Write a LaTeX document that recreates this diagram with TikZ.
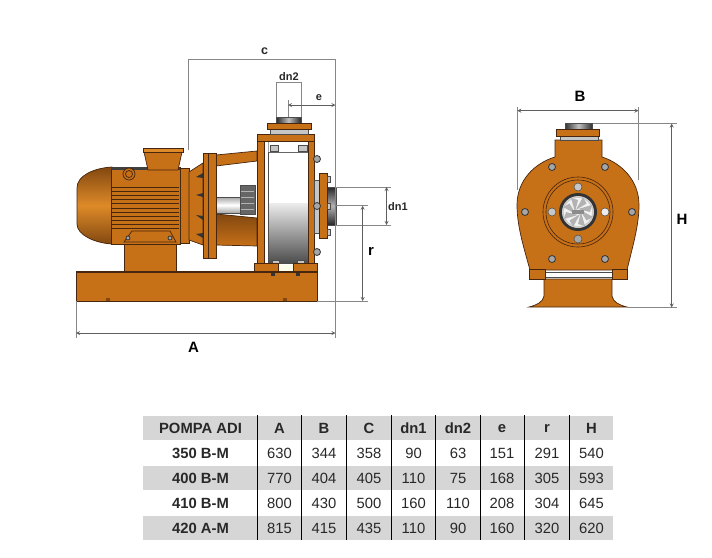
\documentclass[tikz,border=0pt]{standalone}
\usepackage{fontspec}
\setmainfont{Liberation Sans}
\usetikzlibrary{calc,positioning,arrows}
\definecolor{pumporange}{RGB}{198,112,24}
\definecolor{pumplight}{RGB}{222,138,40}
\definecolor{pumpdark}{RGB}{130,72,16}
\definecolor{pumpedge}{RGB}{70,38,14}
\definecolor{dimgray}{RGB}{135,135,135}
\definecolor{rowgray}{RGB}{214,214,214}
\definecolor{inktext}{RGB}{40,40,40}
\tikzset{
	>=stealth,
	metal/.style={fill=pumporange, draw=pumpedge, line width=0.7pt},
	steel/.style={fill=gray!45, draw=black!70, line width=0.5pt},
	bolt/.style={fill=gray!70, draw=black!80, line width=0.8pt},
	rib/.style={draw=pumpedge, line width=0.9pt},
	extline/.style={draw=dimgray, line width=0.8pt},
	dimline/.style={<->, draw=dimgray!70!black, line width=0.8pt},
	dimtext/.style={font=\fontsize{11}{12}\selectfont\bfseries, text=inktext, inner sep=0pt},
	biglabel/.style={font=\fontsize{15}{16}\selectfont\bfseries, text=black, inner sep=0pt},
	cell/.style={font=\fontsize{14.8}{16}\selectfont, text=inktext, inner sep=0pt},
	headcell/.style={cell, font=\fontsize{14.8}{16}\selectfont\bfseries},
	rowband/.style={fill=rowgray, draw=none},
	divider/.style={draw=black, line width=1pt},
}

\begin{document}
\begin{tikzpicture}[x=1pt, y=-1pt]
		\useasboundingbox (0,0) rectangle (712,557);

		% side view: base and motor
		\draw[metal] (76,271) rectangle (317,301);
		\draw[pumpedge, line width=1.4pt] (76,272) -- (317,272);
		\fill[pumpdark] (106,298) rectangle (110,301);
		\fill[pumpdark] (283,298) rectangle (287,301);
		\fill[black!80] (271,273) rectangle (275,276);
		\fill[black!80] (296,273) rectangle (300,276);
		\draw[metal] (124,243) rectangle (176,271);
		\draw[metal, top color=pumpdark, bottom color=pumpdark, middle color=pumplight] (112,167) .. controls (95,168) and (77,175) .. (77,188) -- (77,224) .. controls (77,235) and (95,243) .. (112,244) -- cycle;
		\draw[metal] (111,167) rectangle (180,244);
		\fill[black!75] (111,167) rectangle (180,170);
		\draw[rib] (112,187) -- (179,187);
		\draw[rib] (112,191) -- (179,191);
		\draw[rib] (112,195) -- (179,195);
		\draw[rib] (112,199) -- (179,199);
		\draw[rib] (112,203) -- (179,203);
		\draw[rib] (112,208) -- (179,208);
		\draw[rib] (112,212) -- (179,212);
		\draw[rib] (112,216) -- (179,216);
		\draw[rib] (112,220) -- (179,220);
		\draw[rib] (112,224) -- (179,224);
		\draw[rib] (112,228) -- (179,228);
		\draw[metal] (129,174) circle (6);
		\draw[metal] (129,174) circle (3.5);
		\draw[metal] (132,231) -- (170,231) -- (176,242) -- (124,242) -- cycle;
		\node[bolt, circle, minimum size=4pt, inner sep=0pt] (footl) at (128,238) {};
		\node[bolt, circle, minimum size=4pt, inner sep=0pt] (footr) at (170,238) {};
		\draw[metal] (144,152) -- (182,152) -- (178,170) -- (148,170) -- cycle;
		\draw[metal, fill=pumplight] (143,148) rectangle (183,152);

		% side view: lantern and bracket
		\draw[metal] (180,168) rectangle (189,243);
		\draw[metal] (189,172) -- (203,163) -- (203,245) -- (189,240) -- cycle;
		\fill[black!80] (196,177) -- (203,173) -- (203,178) -- cycle;
		\fill[black!80] (196,195) -- (203,193) -- (203,197) -- cycle;
		\fill[black!80] (196,215) -- (203,216) -- (203,220) -- cycle;
		\fill[black!80] (196,234) -- (203,233) -- (203,238) -- cycle;
		\draw[metal] (216,155) -- (257,151) -- (257,161) -- (216,166) -- cycle;
		\draw[metal, top color=pumpdark, bottom color=pumporange] (216,214) -- (257,218) -- (257,246) -- (216,245) -- cycle;
		\draw[steel, top color=gray!70, bottom color=gray!70, middle color=white] (216,197) rectangle (240,213);
		\draw[steel, fill=black!60] (240,185) rectangle (255,214);
		\draw[gray!60, line width=0.8pt] (241,191) -- (254,191);
		\draw[gray!60, line width=0.8pt] (241,197) -- (254,197);
		\draw[gray!60, line width=0.8pt] (241,203) -- (254,203);
		\draw[gray!60, line width=0.8pt] (241,209) -- (254,209);
		\draw[metal] (203,153) rectangle (216,258);
		\draw[pumpedge, line width=0.7pt] (208,153) -- (208,258);

		% side view: pump housing
		\fill[white] (264,141) rectangle (308,263);
		\draw[gray!70, line width=0.8pt] (268,141) -- (268,263);
		\draw[draw=black!60, fill=white] (268,152) rectangle (308,203);
		\shade[top color=gray!15, bottom color=black!70] (268,203) rectangle (308,263);
		\draw[black!70, line width=0.6pt] (268,152) -- (268,263);
		\draw[steel] (270,145) rectangle (278,151);
		\draw[steel] (298,145) rectangle (307,151);
		\draw[steel] (272,260) rectangle (279,263);
		\draw[steel] (297,260) rectangle (304,263);
		\draw[metal] (257,134) rectangle (264,263);
		\draw[metal] (308,134) rectangle (314,263);
		\draw[metal] (257,134) rectangle (314,141);
		\fill[yellow!8] (278,265) rectangle (293,271);
		\draw[metal] (254,263) rectangle (278,271);
		\draw[metal] (293,263) rectangle (317,271);
		\draw[steel] (270,129) rectangle (308,134);
		\draw[steel, left color=black!85, right color=black!85, middle color=gray!50] (276,117) rectangle (301,123);
		\draw[metal] (267,123) rectangle (311,129);
		\draw[steel] (314,180) rectangle (319,233);
		\draw[steel, top color=black!85, bottom color=black!85, middle color=gray!60] (327,187) rectangle (336,225);
		\draw[metal] (319,173) rectangle (327,238);
		\node[bolt, circle, minimum size=7pt, inner sep=0pt] (boltup) at (317,159) {};
		\node[bolt, circle, minimum size=7pt, inner sep=0pt] (boltmid) at (317,206) {};
		\node[bolt, circle, minimum size=7pt, inner sep=0pt] (boltlow) at (317,252) {};
		\draw[steel] (327,176) rectangle (330,182);
		\draw[steel] (327,203) rectangle (330,209);
		\draw[steel] (327,229) rectangle (330,235);

		% front view
		\draw[metal] (544,279) -- (544,296) .. controls (543,302) and (537,305) .. (529,307) -- (627,307) .. controls (619,305) and (613,302) .. (612,296) -- (612,279) -- cycle;
		\draw[metal] (555,157) .. controls (535,163) and (517,180) .. (517,205) .. controls (517,225) and (523,245) .. (530,270) -- (627,270) .. controls (633,245) and (639,225) .. (639,205) .. controls (639,180) and (621,163) .. (602,157) -- (602,140) -- (555,140) -- cycle;
		\draw[steel, fill=white] (545,272) rectangle (612,277);
		\draw[metal] (529,269) rectangle (545,279);
		\draw[metal] (612,269) rectangle (627,279);
		\draw[steel] (560,136) rectangle (598,140);
		\draw[steel, left color=black!80, right color=black!80, middle color=gray!50] (565,123) rectangle (592,129);
		\draw[metal] (556,129) rectangle (599,136);
		\draw[pumpedge, line width=0.6pt] (578,212) circle (35);
		\draw[pumpedge, line width=0.6pt] (578,212) circle (32);
		\node[bolt, circle, minimum size=7pt, inner sep=0pt] (holea) at (552,167) {};
		\node[bolt, circle, minimum size=7pt, inner sep=0pt] (holeb) at (605,167) {};
		\node[bolt, circle, minimum size=7pt, inner sep=0pt] (holec) at (525,212) {};
		\node[bolt, circle, minimum size=7pt, inner sep=0pt] (holed) at (632,212) {};
		\node[bolt, circle, minimum size=7pt, inner sep=0pt] (holee) at (552,259) {};
		\node[bolt, circle, minimum size=7pt, inner sep=0pt] (holef) at (605,259) {};
		\node[steel, circle, minimum size=8pt, inner sep=0pt] (studa) at (578,187) {};
		\node[steel, circle, minimum size=8pt, inner sep=0pt] (studb) at (552,212) {};
		\node[steel, circle, minimum size=8pt, inner sep=0pt, fill=gray!15] (studc) at (605,212) {};
		\node[steel, circle, minimum size=8pt, inner sep=0pt, fill=gray!70] (studd) at (578,239) {};
		\fill[black!80] (578,212) circle (19);
		\fill[gray!40] (578,212) circle (16);
		\fill[gray!10] (578,212) circle (14);
		\fill[gray!60, rotate around={0:(578,212)}] (578,209) -- (592,205) -- (590,212) -- cycle;
		\fill[gray!60, rotate around={45:(578,212)}] (578,209) -- (592,205) -- (590,212) -- cycle;
		\fill[gray!60, rotate around={90:(578,212)}] (578,209) -- (592,205) -- (590,212) -- cycle;
		\fill[gray!60, rotate around={135:(578,212)}] (578,209) -- (592,205) -- (590,212) -- cycle;
		\fill[gray!60, rotate around={180:(578,212)}] (578,209) -- (592,205) -- (590,212) -- cycle;
		\fill[gray!60, rotate around={225:(578,212)}] (578,209) -- (592,205) -- (590,212) -- cycle;
		\fill[gray!60, rotate around={270:(578,212)}] (578,209) -- (592,205) -- (590,212) -- cycle;
		\fill[gray!60, rotate around={315:(578,212)}] (578,209) -- (592,205) -- (590,212) -- cycle;
		\fill[gray!90] (572,210) rectangle (584,214);

		% dimension points
		\coordinate (cl) at (188,59);
		\coordinate (cr) at (335.5,59);
		\coordinate (cfoot) at (188,150);
		\coordinate (crfoot) at (335.5,338);
		\coordinate (al) at (76,333);
		\coordinate (ar) at (335.5,333);
		\coordinate (altop) at (76,301);
		\coordinate (albot) at (76,338);
		\coordinate (dnl) at (276.5,82);
		\coordinate (dnr) at (301,82);
		\coordinate (dnlf) at (276.5,117);
		\coordinate (dnrf) at (301,117);
		\coordinate (el) at (288,105);
		\coordinate (er) at (335.5,105);
		\coordinate (eltop) at (288,100);
		\coordinate (elbot) at (288,117);
		\coordinate (dtop) at (336,187);
		\coordinate (dbot) at (336,225);
		\coordinate (dtopr) at (391,187);
		\coordinate (dbotr) at (391,225);
		\coordinate (dmidt) at (386.5,187);
		\coordinate (dmidb) at (386.5,225);
		\coordinate (rt) at (362.7,205.7);
		\coordinate (rb) at (362.7,301);
		\coordinate (rtl) at (336,205.7);
		\coordinate (rtr) at (368,205.7);
		\coordinate (rbl) at (317,301);
		\coordinate (rbr) at (368,301);
		\coordinate (bl) at (517.3,110.7);
		\coordinate (br) at (638.5,110.7);
		\coordinate (bltop) at (517.3,107);
		\coordinate (blbot) at (517.3,190);
		\coordinate (brtop) at (638.5,107);
		\coordinate (brbot) at (638.5,180);
		\coordinate (ht) at (671.7,123.5);
		\coordinate (hb) at (671.7,307.5);
		\coordinate (htl) at (593,123.5);
		\coordinate (htr) at (677,123.5);
		\coordinate (hbl) at (627,307.5);
		\coordinate (hbr) at (677,307.5);

		% dimension lines
		\draw[extline] (cfoot) -- (cl) -- (cr) -- (crfoot);
		\draw[extline] (altop) -- (albot);
		\draw[dimline] (al) -- (ar);
		\draw[extline] (dnlf) -- (dnl) -- (dnr) -- (dnrf);
		\draw[extline] (eltop) -- (elbot);
		\draw[dimline] (el) -- (er);
		\draw[extline] (dtop) -- (dtopr);
		\draw[extline] (dbot) -- (dbotr);
		\draw[dimline] (dmidt) -- (dmidb);
		\draw[extline] (rtl) -- (rtr);
		\draw[extline] (rbl) -- (rbr);
		\draw[dimline] (rt) -- (rb);
		\draw[extline] (bltop) -- (blbot);
		\draw[extline] (brtop) -- (brbot);
		\draw[dimline] (bl) -- (br);
		\draw[extline] (htl) -- (htr);
		\draw[extline] (hbl) -- (hbr);
		\draw[dimline] (ht) -- (hb);

		\node[dimtext, font=\fontsize{12.5}{13}\selectfont\bfseries] (labc) at (264.5,51) {c};
		\node[dimtext] (labdntwo) at (289,77) {dn2};
		\node[dimtext] (labe) at (319,98) {e};
		\node[dimtext] (labdnone) at (398,207) {dn1};
		\node[biglabel] (labr) at (371,251) {r};
		\node[biglabel] (laba) at (193.5,347) {A};
		\node[biglabel] (labb) at (580,96) {B};
		\node[biglabel] (labh) at (682,219) {H};

		% table
		\fill[rowband] (143,416) rectangle (613,440);
		\fill[rowband] (143,466) rectangle (613,490);
		\fill[rowband] (143,516) rectangle (613,540);
		\coordinate (vat) at (257.3,415);
		\coordinate (vab) at (257.3,540);
		\coordinate (vbt) at (301.7,415);
		\coordinate (vbb) at (301.7,540);
		\coordinate (vct) at (346.7,415);
		\coordinate (vcb) at (346.7,540);
		\coordinate (vdt) at (391,415);
		\coordinate (vdb) at (391,540);
		\coordinate (vet) at (435.7,415);
		\coordinate (veb) at (435.7,540);
		\coordinate (vft) at (480.3,415);
		\coordinate (vfb) at (480.3,540);
		\coordinate (vgt) at (524.3,415);
		\coordinate (vgb) at (524.3,540);
		\coordinate (vht) at (569.3,415);
		\coordinate (vhb) at (569.3,540);
		\draw[divider] (vat) -- (vab);
		\draw[divider] (vbt) -- (vbb);
		\draw[divider] (vct) -- (vcb);
		\draw[divider] (vdt) -- (vdb);
		\draw[divider] (vet) -- (veb);
		\draw[divider] (vft) -- (vfb);
		\draw[divider] (vgt) -- (vgb);
		\draw[divider] (vht) -- (vhb);

		\node[headcell] (hname) at (200.5,428.5) {POMPA ADI};
		\node[headcell] (ha) at (279.5,428.5) {A};
		\node[headcell] (hb2) at (324,428.5) {B};
		\node[headcell] (hc) at (369,428.5) {C};
		\node[headcell] (hdna) at (413.5,428.5) {dn1};
		\node[headcell] (hdnb) at (458,428.5) {dn2};
		\node[headcell] (he) at (502,428.5) {e};
		\node[headcell] (hr) at (547,428.5) {r};
		\node[headcell] (hh) at (591.5,428.5) {H};

		\node[headcell] (ra0) at (200.5,453) {350 B-M};
		\node[cell] (ra1) at (279.5,453) {630};
		\node[cell] (ra2) at (324,453) {344};
		\node[cell] (ra3) at (369,453) {358};
		\node[cell] (ra4) at (413.5,453) {90};
		\node[cell] (ra5) at (458,453) {63};
		\node[cell] (ra6) at (502,453) {151};
		\node[cell] (ra7) at (547,453) {291};
		\node[cell] (ra8) at (591.5,453) {540};

		\node[headcell] (rb0) at (200.5,478) {400 B-M};
		\node[cell] (rb1) at (279.5,478) {770};
		\node[cell] (rb2) at (324,478) {404};
		\node[cell] (rb3) at (369,478) {405};
		\node[cell] (rb4) at (413.5,478) {110};
		\node[cell] (rb5) at (458,478) {75};
		\node[cell] (rb6) at (502,478) {168};
		\node[cell] (rb7) at (547,478) {305};
		\node[cell] (rb8) at (591.5,478) {593};

		\node[headcell] (rc0) at (200.5,503) {410 B-M};
		\node[cell] (rc1) at (279.5,503) {800};
		\node[cell] (rc2) at (324,503) {430};
		\node[cell] (rc3) at (369,503) {500};
		\node[cell] (rc4) at (413.5,503) {160};
		\node[cell] (rc5) at (458,503) {110};
		\node[cell] (rc6) at (502,503) {208};
		\node[cell] (rc7) at (547,503) {304};
		\node[cell] (rc8) at (591.5,503) {645};

		\node[headcell] (rd0) at (200.5,528) {420 A-M};
		\node[cell] (rd1) at (279.5,528) {815};
		\node[cell] (rd2) at (324,528) {415};
		\node[cell] (rd3) at (369,528) {435};
		\node[cell] (rd4) at (413.5,528) {110};
		\node[cell] (rd5) at (458,528) {90};
		\node[cell] (rd6) at (502,528) {160};
		\node[cell] (rd7) at (547,528) {320};
		\node[cell] (rd8) at (591.5,528) {620};
	\end{tikzpicture}
\end{document}
